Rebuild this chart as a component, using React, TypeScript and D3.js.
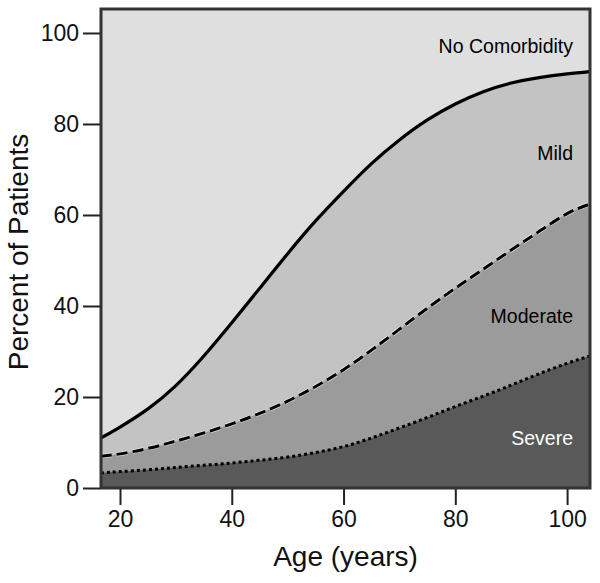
import React, { useEffect, useRef } from 'react';
import * as d3 from 'd3';

// age grid (years) and cumulative boundaries (% of patients)
const ages = [16.6, 20, 25, 30, 35, 40, 45, 50, 55, 60, 65, 70, 75, 80, 85, 90, 95, 100, 104.1];
const severeTop = [3.3, 3.6, 4.0, 4.5, 5.0, 5.5, 6.1, 6.8, 7.8, 9.1, 11.0, 13.2, 15.5, 17.9, 20.2, 22.6, 25.1, 27.4, 29.0];
const moderateTop = [7.0, 7.5, 8.7, 10.3, 12.1, 14.1, 16.4, 19.1, 22.3, 26.0, 30.3, 34.9, 39.5, 43.9, 48.1, 52.3, 56.4, 60.3, 62.4];
const mildTop = [11.0, 13.4, 17.4, 22.5, 29.0, 36.3, 43.9, 51.5, 58.7, 65.2, 71.3, 76.5, 80.9, 84.4, 87.1, 89.0, 90.2, 91.0, 91.5];

const xTicks = [20, 40, 60, 80, 100];
const yTicks = [0, 20, 40, 60, 80, 100];
const categories = ['No Comorbidity', 'Mild', 'Moderate', 'Severe'];

const W = 600;
const H = 583;

const App: React.FC = () => {
  const svgRef = useRef<SVGSVGElement>(null);

  useEffect(() => {
    if (!svgRef.current) return;
    const svg = d3.select(svgRef.current);
    svg.selectAll('*').remove();

    const left = 101, right = 590, top = 9, bottom = 488;
    const x = d3.scaleLinear().domain([16.6, 104.1]).range([left, right]);
    const y = d3.scaleLinear().domain([0, 105.27]).range([bottom, top]);
    const font = '"Liberation Sans", Arial, sans-serif';

    const defs = svg.append('defs');
    defs.append('clipPath').attr('id', 'plot-clip')
      .append('rect')
      .attr('x', left).attr('y', top)
      .attr('width', right - left).attr('height', bottom - top);

    const plot = svg.append('g').attr('clip-path', 'url(#plot-clip)');

    // 背景 = No Comorbidity
    plot.append('rect')
      .attr('x', left).attr('y', top)
      .attr('width', right - left).attr('height', bottom - top)
      .attr('fill', '#dfdfdf');

    const idx = d3.range(ages.length);
    const area = (vals: number[]) => d3.area<number>()
      .x(i => x(ages[i]))
      .y0(y(0))
      .y1(i => y(vals[i]))
      .curve(d3.curveNatural)(idx);
    const line = (vals: number[]) => d3.line<number>()
      .x(i => x(ages[i]))
      .y(i => y(vals[i]))
      .curve(d3.curveNatural)(idx);

    plot.append('path').attr('d', area(mildTop)).attr('fill', '#c3c3c3');
    plot.append('path').attr('d', area(moderateTop)).attr('fill', '#9b9b9b');
    plot.append('path').attr('d', area(severeTop)).attr('fill', '#595959');

    // boundary lines
    plot.append('path').attr('d', line(severeTop))
      .attr('fill', 'none').attr('stroke', '#000').attr('stroke-width', 3)
      .attr('stroke-dasharray', '3,3');
    plot.append('path').attr('d', line(moderateTop))
      .attr('fill', 'none').attr('stroke', '#fff').attr('stroke-width', 4.5)
      .attr('stroke-opacity', 0.6).attr('stroke-dasharray', '11,5');
    plot.append('path').attr('d', line(moderateTop))
      .attr('fill', 'none').attr('stroke', '#000').attr('stroke-width', 3)
      .attr('stroke-dasharray', '11,5');
    plot.append('path').attr('d', line(mildTop))
      .attr('fill', 'none').attr('stroke', '#000').attr('stroke-width', 3.2);

    // category labels
    const labelX = 573;
    const labelY = [53, 160, 323, 445];
    categories.forEach((c, i) => {
      plot.append('text')
        .attr('x', labelX).attr('y', labelY[i])
        .attr('text-anchor', 'end')
        .attr('font-family', font)
        .attr('font-size', 19.5)
        .attr('fill', i === 3 ? '#fff' : '#000')
        .text(c);
    });

    // frame
    svg.append('rect')
      .attr('x', left).attr('y', top)
      .attr('width', right - left).attr('height', bottom - top)
      .attr('fill', 'none').attr('stroke', '#333').attr('stroke-width', 3);

    // y axis
    const yAxis = d3.axisLeft(y).tickValues(yTicks).tickSize(17).tickPadding(4);
    const yg = svg.append('g').attr('transform', `translate(${left - 1},0)`).call(yAxis);
    yg.select('.domain').remove();
    yg.selectAll('.tick line').attr('stroke', '#222').attr('stroke-width', 2);
    yg.selectAll('.tick text')
      .attr('font-family', font).attr('font-size', 23).attr('fill', '#111');

    // x axis
    const xAxis = d3.axisBottom(x).tickValues(xTicks).tickSize(16).tickPadding(6);
    const xg = svg.append('g').attr('transform', `translate(0,${bottom + 1})`).call(xAxis);
    xg.select('.domain').remove();
    xg.selectAll('.tick line').attr('stroke', '#222').attr('stroke-width', 2);
    xg.selectAll('.tick text')
      .attr('font-family', font).attr('font-size', 23).attr('fill', '#111');

    // axis titles
    svg.append('text')
      .attr('x', (left + right) / 2).attr('y', 566)
      .attr('text-anchor', 'middle')
      .attr('font-family', font).attr('font-size', 28).attr('fill', '#111')
      .text('Age (years)');
    svg.append('text')
      .attr('transform', `translate(28, 252) rotate(-90)`)
      .attr('text-anchor', 'middle')
      .attr('font-family', font).attr('font-size', 28).attr('fill', '#111')
      .text('Percent of Patients');
  }, []);

  return (
    <svg
      ref={svgRef}
      width={W}
      height={H}
      style={{ position: 'absolute', left: 0, top: 0, background: '#fff' }}
    />
  );
};

export default App;
